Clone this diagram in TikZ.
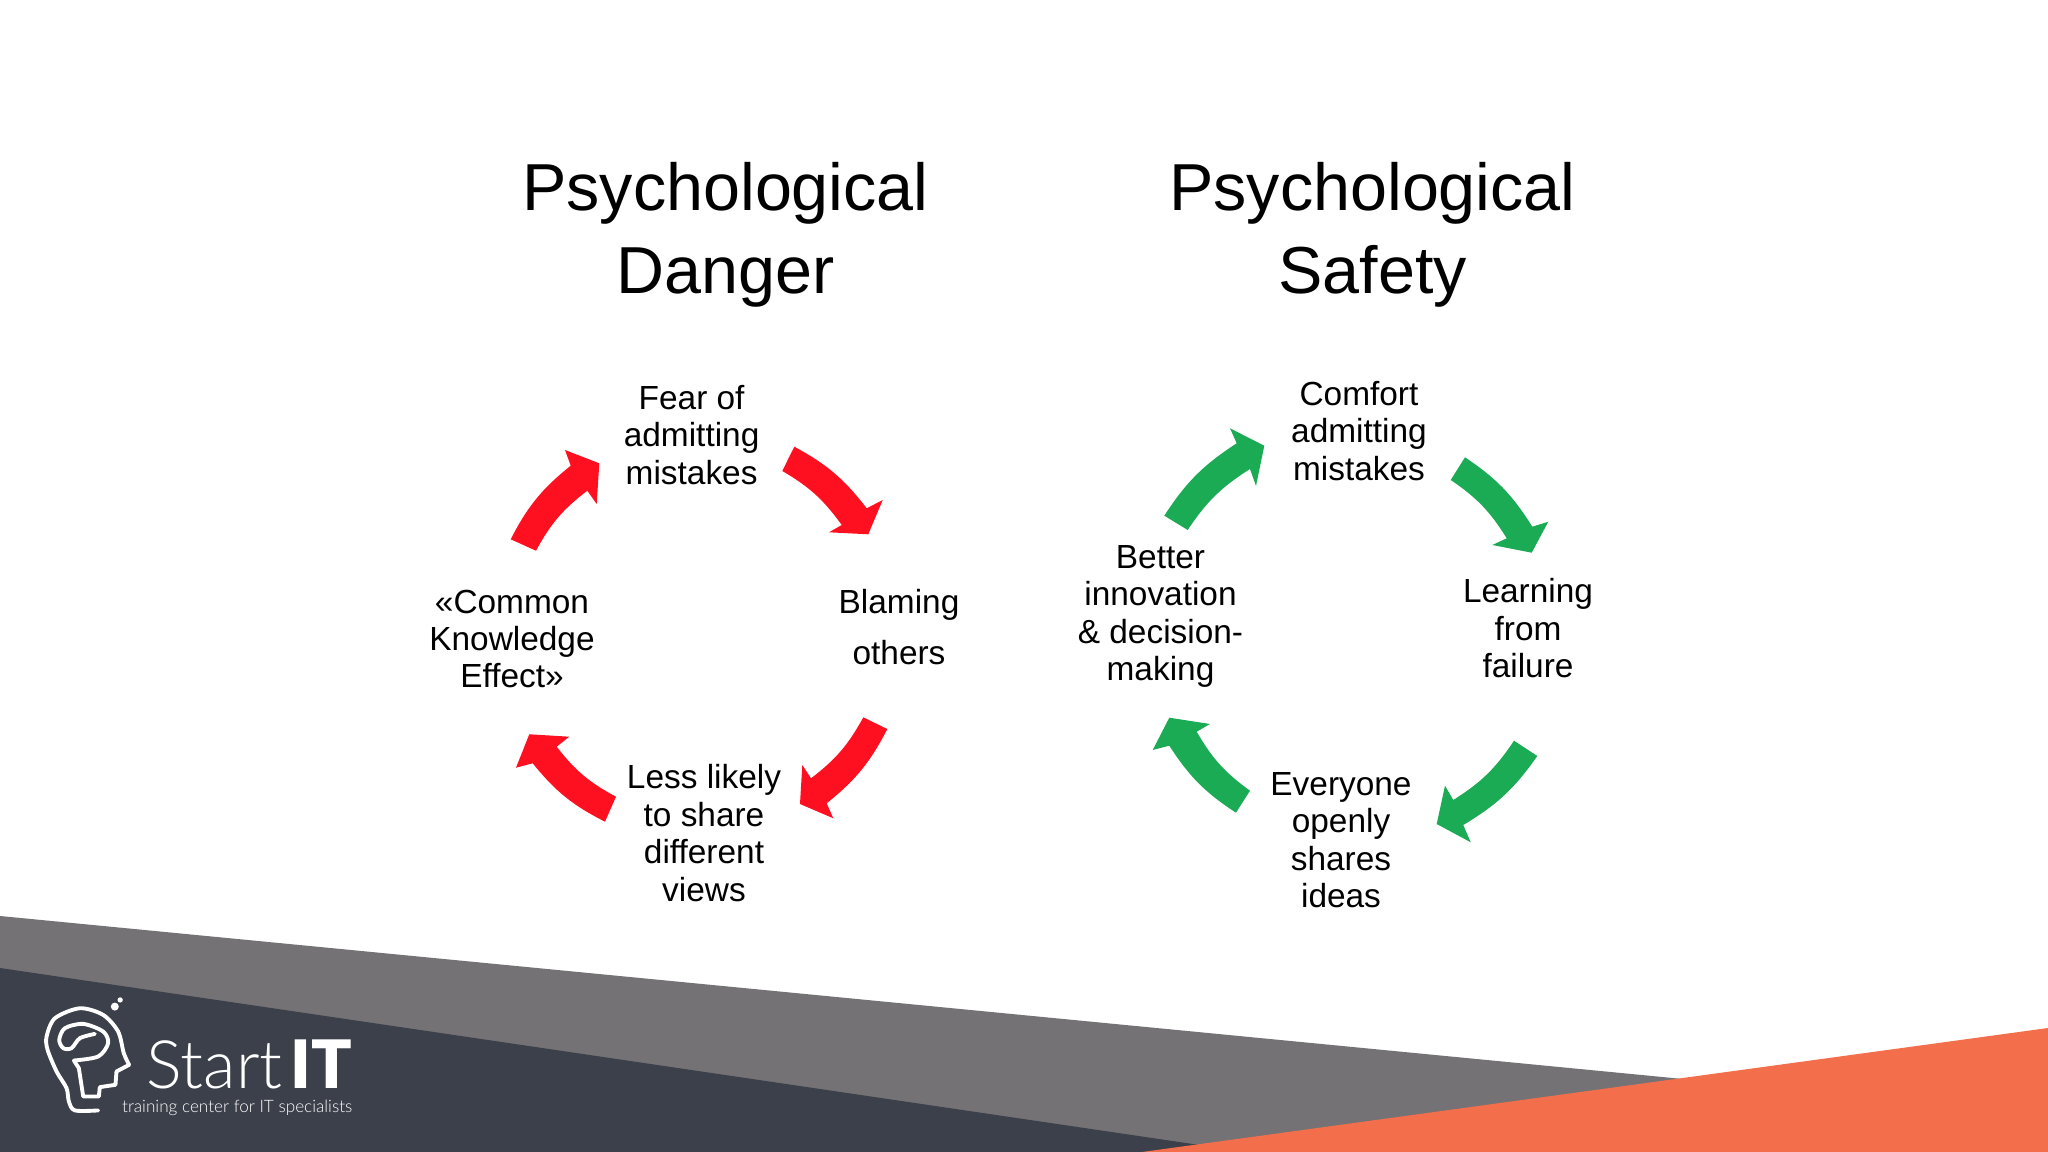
\documentclass[tikz,border=0pt]{standalone}
\usepackage{fontspec}
\setmainfont{Liberation Sans}
\newfontfamily\logofont[UprightFont={* Light},BoldFont={* Black}]{Lato}
\usetikzlibrary{positioning}
\definecolor{bandgray}{HTML}{747275}
\definecolor{banddark}{HTML}{3B404A}
\definecolor{bandorange}{HTML}{F36F4B}
\definecolor{dangerred}{HTML}{FF1020}
\definecolor{safegreen}{HTML}{1CAB55}
\tikzset{
  title/.style     = {align=center, text=black, font=\fontsize{18.9}{23.6}\selectfont},
  cycletext/.style = {align=center, text=black, font=\fontsize{9.5}{10.65}\selectfont},
  redarrow/.style  = {fill=dangerred},
  greenarrow/.style= {fill=safegreen},
  logoline/.style  = {draw=white, line width=1.1pt, line cap=round, line join=round},
  rim/.style       = {bend left=12},
  hub/.style       = {bend right=12},
}
\begin{document}
\begin{tikzpicture}[x=0.01cm, y=-0.01cm]
  \useasboundingbox (0,0) rectangle (2048,1152);

  % ---- bands along the bottom ---------------------------------------------
  \fill[bandgray] (0,916) -- (1683,1079) -- (1683,1152) -- (0,1152) -- cycle;
  \fill[banddark] (0,968) -- (1247,1152) -- (0,1152) -- cycle;
  \fill[bandorange] (2048,1028) -- (2048,1152) -- (1142,1152) -- cycle;

  % ---- titles -------------------------------------------------------------
  \node[title] (dangertitle) at (725.5,235) {Psychological\\Danger};
  \node[title] (safetytitle) at (1372.5,235) {Psychological\\Safety};

  % ---- danger cycle -------------------------------------------------------
  \node[cycletext] (fear) at (691.6,435) {Fear of\\admitting\\mistakes};
  \node[cycletext, font=\fontsize{9.5}{14.5}\selectfont] (blaming) at (899,627) {Blaming\\others};
  \node[cycletext] (lesslikely) at (704,833) {Less likely\\to share\\different\\views};
  \node[cycletext] (common) at (512,639) {«Common\\Knowledge\\Effect»};

  \fill[redarrow] (794.3,446.7) to[rim] (866.7,508.3) -- (882.7,500)
    -- (868.3,534.3) -- (829,532.3) -- (841.7,525) to[hub] (782.3,471) -- cycle;
  \fill[redarrow] (863.3,717.3) to[rim] (811,778.3) -- (802.3,765)
    -- (800,804) -- (833.3,818.3) -- (826.7,803.3) to[hub] (887.3,729) -- cycle;
  \fill[redarrow] (616,796.7) to[rim] (556.7,746.7) -- (569.3,736.7)
    -- (529.3,734.3) -- (516,767.7) -- (532.7,763.3) to[hub] (605,821.7) -- cycle;
  \fill[redarrow] (510.7,539.3) to[rim] (570.7,465.7) -- (565,450)
    -- (599.3,463.3) -- (596.7,504) -- (587.3,490.7) to[hub] (536,550.7) -- cycle;

  % ---- safety cycle -------------------------------------------------------
  \node[cycletext] (comfort) at (1359,431) {Comfort\\admitting\\mistakes};
  \node[cycletext] (learning) at (1528,628.5) {Learning\\from\\failure};
  \node[cycletext] (everyone) at (1341,840) {Everyone\\openly\\shares\\ideas};
  \node[cycletext] (better) at (1160.5,616.5) {Better\\innovation\\\& decision-\\making};

  \fill[greenarrow] (1465,457.3) to[rim] (1532.3,526.7) -- (1548.3,521.7)
    -- (1531.7,552.7) -- (1492.3,545) -- (1506.7,538.3) to[hub] (1450.7,480) -- cycle;
  \fill[greenarrow] (1514,740.7) to[rim] (1453.3,800) -- (1445,785.7)
    -- (1436.7,824) -- (1470.7,842.3) -- (1463.3,825) to[hub] (1537.3,756) -- cycle;
  \fill[greenarrow] (1250,790.7) to[rim] (1196.7,731.7) -- (1210,724)
    -- (1169.3,717.7) -- (1152.7,750) -- (1169.3,745.7) to[hub] (1236,812.7) -- cycle;
  \fill[greenarrow] (1164.3,515.7) to[rim] (1236.7,443.3) -- (1230,428.3)
    -- (1264.3,445.7) -- (1256,486) -- (1250,469) to[hub] (1187.7,530) -- cycle;

  % ---- logo ---------------------------------------------------------------
  \begin{scope}[shift={(0,960)}, x=0.00333cm, y=-0.00333cm]
    \draw[logoline] plot[smooth] coordinates {(295,452) (225,452) (207,425) (200,385) (170,335)
      (143,270) (140,230) (165,175) (240,145) (310,165) (355,215) (372,280) (388,315)};
    \draw[logoline] (388,315) -- (350,335) -- (347,375) -- (300,382) -- (297,410) -- (250,410)
      -- (237,325) -- (222,302);
    \draw[logoline] plot[smooth] coordinates {(222,302) (295,290) (325,250) (310,215) (250,192)
      (195,205) (178,240) (190,265) (215,265) (240,235) (285,222)};
    \fill[white] (345,140) circle (12);
    \fill[white] (361,120) circle (8);
  \end{scope}
  \node[anchor=base west, inner sep=0pt, text=white, font=\logofont\fontsize{19}{19}\selectfont]
    (logostart) at (146,1088) {Start};
  \node[anchor=base west, inner sep=0pt, text=white, font=\logofont\bfseries\fontsize{19}{19}\selectfont]
    (logoit) at (290,1088) {IT};
  \node[anchor=base east, inner sep=0pt, text=white, font=\logofont\fontsize{4.87}{6}\selectfont]
    (logotag) at (353,1112) {training center for IT specialists};
\end{tikzpicture}
\end{document}
